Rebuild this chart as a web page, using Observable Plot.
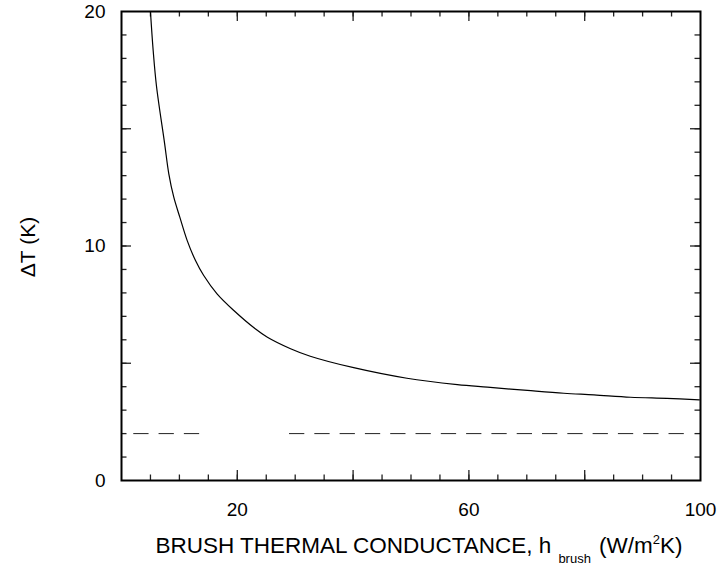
<!DOCTYPE html>
<html>
<head>
<meta charset="utf-8">
<script src="https://cdn.jsdelivr.net/npm/d3@7"></script>
<script src="https://cdn.jsdelivr.net/npm/@observablehq/plot@0.6"></script>
<style>
  html, body { margin: 0; padding: 0; background: #fff; }
  #chart { width: 719px; height: 575px; }
</style>
</head>
<body>
<div id="chart"></div>
<script>
// Curve: brush thermal conductance h (W/m²K) vs ΔT (K)
const hBrush = [5.0, 5.47, 6.05, 7.43, 8.17, 9.03, 10.07, 11.35, 12.78, 14.2, 16.5, 19.4, 23.1, 25.2, 29.2, 32.6, 40.1, 49.3, 58.0, 63.2, 70.1, 76.4, 81.6, 87.9, 94.2, 99.8];
const deltaT = [20.0, 18.34, 16.8, 14.4, 13.08, 12.08, 11.23, 10.23, 9.38, 8.74, 7.96, 7.25, 6.47, 6.11, 5.62, 5.30, 4.81, 4.36, 4.09, 3.98, 3.84, 3.72, 3.65, 3.55, 3.50, 3.44];

// Dashed reference level (two segments)
const refLevel = 2;
const refSegStart = [2.1, 29.0];
const refSegEnd = [13.35, 97.9];

// Ticks
const xMinorTicks = d3.range(5, 100, 5);
const xMajorTicks = [20, 40, 60, 80];
const xTickLabels = [20, 60, 100];
const yMinorTicks = d3.range(1, 20, 1);
const yMajorTicks = [5, 10, 15];
const yTickLabels = [0, 10, 20];

const curve = hBrush.map((h, i) => ({h, t: deltaT[i]}));
const refRows = refSegStart.flatMap((s, i) => [
  {seg: i, h: s, t: refLevel},
  {seg: i, h: refSegEnd[i], t: refLevel}
]);

const W = 719, H = 575, mT = 11, mB = 95, mL = 121, mR = 19;
const innerH = H - mT - mB, innerW = W - mL - mR;
const tickColor = "#222";
const minorLen = 5.5, majorLen = 10;

const xTicks = (values, len, side) => Plot.tickX(values, {
  x: d => d, stroke: tickColor, strokeWidth: 1.3,
  ...(side === "bottom" ? {insetTop: innerH - len} : {insetBottom: innerH - len})
});
const yTicks = (values, len, side) => Plot.tickY(values, {
  y: d => d, stroke: tickColor, strokeWidth: 1.3,
  ...(side === "left" ? {insetRight: innerW - len} : {insetLeft: innerW - len})
});

const chart = Plot.plot({
  width: W,
  height: H,
  marginTop: mT,
  marginBottom: mB,
  marginLeft: mL,
  marginRight: mR,
  style: {fontFamily: "'Liberation Sans', Arial, sans-serif", fontSize: "19px", color: "black", background: "white"},
  x: {domain: [0, 100]},
  y: {domain: [0, 20]},
  marks: [
    xTicks(xMinorTicks, minorLen, "bottom"),
    xTicks(xMajorTicks, majorLen, "bottom"),
    xTicks(xMinorTicks, minorLen, "top"),
    xTicks(xMajorTicks, majorLen, "top"),
    yTicks(yMinorTicks, minorLen, "left"),
    yTicks(yMajorTicks, majorLen, "left"),
    yTicks(yMinorTicks, minorLen, "right"),
    yTicks(yMajorTicks, majorLen, "right"),
    // tick labels
    Plot.axisX({anchor: "bottom", ticks: xTickLabels, tickSize: 0, tickPadding: 22, label: null, tickFormat: d => String(d)}),
    Plot.axisY({anchor: "left", ticks: yTickLabels, tickSize: 0, tickPadding: 16, label: null, tickFormat: d => String(d)}),
    Plot.frame({stroke: "black", strokeWidth: 2}),
    Plot.line(refRows, {x: "h", y: "t", z: "seg", stroke: "#222", strokeWidth: 1, strokeDasharray: "14.5,10.8"}),
    Plot.line(curve, {x: "h", y: "t", stroke: "black", strokeWidth: 1.2, curve: "catmull-rom"})
  ]
});

const svg = d3.select(chart);
// X axis title with subscript and superscript
const xt = svg.append("text")
  .attr("x", 155.5)
  .attr("y", 553)
  .attr("fill", "black")
  .attr("font-family", "'Liberation Sans', Arial, sans-serif")
  .attr("font-size", 22.5)
  .attr("text-anchor", "start");
xt.append("tspan").text("BRUSH THERMAL CONDUCTANCE, h");
xt.append("tspan").attr("dx", 7).attr("dy", 10).attr("font-size", 13).text("brush");
xt.append("tspan").attr("dx", 8).attr("dy", -10).text("(W/m");
xt.append("tspan").attr("dy", -9).attr("font-size", 13).text("2");
xt.append("tspan").attr("dy", 9).text("K)");

// Y axis title
svg.append("text")
  .attr("transform", "translate(35,247) rotate(-90)")
  .attr("fill", "black")
  .attr("font-family", "'Liberation Sans', Arial, sans-serif")
  .attr("font-size", 21)
  .attr("text-anchor", "middle")
  .text("ΔT (K)");

document.getElementById("chart").appendChild(chart);
</script>
</body>
</html>
